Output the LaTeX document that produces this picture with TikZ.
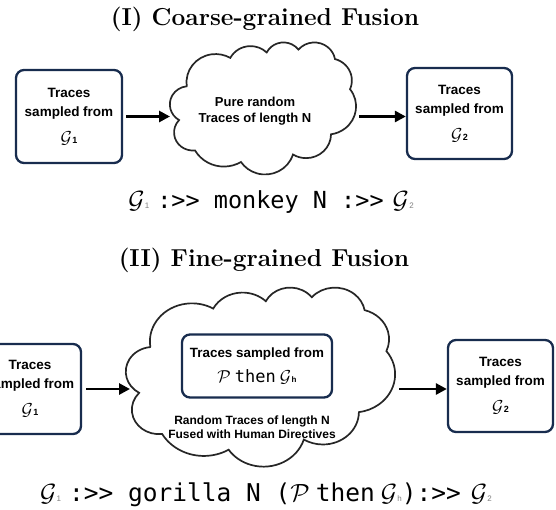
\documentclass[tikz,border=0pt]{standalone}
\usepackage{fontspec}
\setsansfont{Liberation Sans}
\newfontfamily\codefont{DejaVu Sans Mono}
\usetikzlibrary{arrows.meta}
\definecolor{navy}{RGB}{24,44,78}

% OOXML-style arc preparation: visual angles -> parametric angles
\newcommand\ooPrep[5]{%
  \pgfmathsetmacro\ooTs{atan2(#2*sin(#4),#3*cos(#4))}%
  \pgfmathsetmacro\ooTe{atan2(#2*sin(#4+#5),#3*cos(#4+#5))}%
  \pgfmathsetmacro\ooD{mod(\ooTe-\ooTs+720,360)}%
  \expandafter\xdef\csname ooS#1\endcsname{\ooTs}%
  \expandafter\xdef\csname ooD#1\endcsname{\ooD}%
}
\newcommand\ooCloud[4]{%
  \pgfmathsetmacro\ooxs{#3/43.2}%
  \pgfmathsetmacro\ooys{#4/43.2}%
  \begin{scope}[shift={(#1pt,-#2pt)},x=\ooxs pt,y=-\ooys pt]
    \draw[cloudline] (3.9,14.37)
      arc[start angle=\ooSa,delta angle=\ooDa,x radius=6.753,y radius=9.190]
      arc[start angle=\ooSb,delta angle=\ooDb,x radius=5.333,y radius=7.267]
      arc[start angle=\ooSc,delta angle=\ooDc,x radius=4.365,y radius=5.945]
      arc[start angle=\ooSd,delta angle=\ooDd,x radius=4.857,y radius=6.595]
      arc[start angle=\ooSe,delta angle=\ooDe,x radius=5.333,y radius=7.273]
      arc[start angle=\ooSf,delta angle=\ooDf,x radius=6.775,y radius=9.220]
      arc[start angle=\ooSg,delta angle=\ooDg,x radius=5.785,y radius=7.867]
      arc[start angle=\ooSh,delta angle=\ooDh,x radius=6.752,y radius=9.215]
      arc[start angle=\ooSi,delta angle=\ooDi,x radius=7.720,y radius=10.543]
      arc[start angle=\ooSj,delta angle=\ooDj,x radius=4.360,y radius=5.918]
      arc[start angle=\ooSk,delta angle=\ooDk,x radius=4.345,y radius=5.945]
      -- cycle;
  \end{scope}}
\newcommand\gsym[1]{{\fontsize{19}{19}\selectfont$\mathcal{G}$}\kern0.5pt{\fontsize{9}{9}\selectfont\sffamily\bfseries #1}}
\newcommand\gsub[1]{{\fontsize{26}{26}\selectfont$\mathcal{G}$}\kern0.3pt{\fontsize{8}{8}\selectfont\sffamily\color{black!50}#1}}

\begin{document}
\begin{tikzpicture}[x=1pt,y=-1pt,
  gbox/.style={draw=navy,line width=2.3pt,rounded corners=8pt,fill=white,align=center,inner sep=0pt},
  btext/.style={font=\sffamily\bfseries\fontsize{13.5}{19}\selectfont},
  conn/.style={line width=2.8pt,-{Triangle[length=11pt,width=11pt]}},
  cloudline/.style={draw=black!85,line width=1.7pt,fill=white},
  area/.style={inner sep=0pt,outer sep=0pt},
  cloudtext/.style={font=\sffamily\bfseries\fontsize{13}{15.5}\selectfont,align=center,inner sep=0pt},
  title/.style={font=\rmfamily\bfseries\fontsize{24.5}{29}\selectfont,anchor=base,inner sep=0pt},
  code/.style={font=\codefont\fontsize{23.5}{28}\selectfont,anchor=base,inner sep=0pt}]
\ooPrep{a}{6.753}{9.190}{-190.4875}{123.7805}
\ooPrep{b}{5.333}{7.267}{-144.1024}{89.9452}
\ooPrep{c}{4.365}{5.945}{-145.8079}{99.7230}
\ooPrep{d}{4.857}{6.595}{-130.9861}{117.2417}
\ooPrep{e}{5.333}{7.273}{-78.7089}{109.0269}
\ooPrep{f}{6.775}{9.220}{-46.2673}{130.2690}
\ooPrep{g}{5.785}{7.867}{0.6250}{114.0333}
\ooPrep{h}{6.752}{9.215}{22.4516}{115.1726}
\ooPrep{i}{7.720}{10.543}{66.2426}{75.7110}
\ooPrep{j}{4.360}{5.918}{-274.9421}{146.7356}
\ooPrep{k}{4.345}{5.945}{-246.8285}{152.5189}

\useasboundingbox (0,0) rectangle (556,509);

% ---------- (I) ----------
\node[title] (t1) at (265,25) {(I) Coarse-grained Fusion};

\node[gbox,btext,minimum width=106pt,minimum height=93pt] (b1) at (69,116.5)
  {Traces\\sampled from\\[8pt]\gsym{1}};

\ooCloud{170}{42}{186}{132}
\node[area,minimum width=186pt,minimum height=132pt] (c1) at (263,108) {};
\node[cloudtext] (c1t) at (255,111) {Pure random\\Traces of length N};

\node[gbox,btext,minimum width=105pt,minimum height=91pt] (b2) at (459.5,113.5)
  {Traces\\sampled from\\[8pt]\gsym{2}};

\draw[conn] ([xshift=3pt]b1.east) -- (b1.east -| c1.west);
\draw[conn] ([xshift=3pt]c1.east |- b1.east) -- (b2.west |- b1.east);

\node[code] (f1) at (271,208) {\gsub{1}\kern8pt:>> monkey N :>>\kern9pt\gsub{2}};

% ---------- (II) ----------
\node[title] (t2) at (264,266) {(II) Fine-grained Fusion};

\node[gbox,btext,minimum width=102pt,minimum height=90pt] (b3) at (30,389)
  {Traces\\sampled from\\[8pt]\gsym{1}};

\ooCloud{126}{287}{269}{179}
\node[area,minimum width=269pt,minimum height=179pt] (c2) at (260.5,376.5) {};

\node[gbox,minimum width=150pt,minimum height=63pt,font=\fontsize{13.4}{25}\selectfont] (pb) at (257,366)
  {{\sffamily\bfseries Traces sampled from}\\{\fontsize{17}{17}\selectfont$\mathcal{P}$\kern4pt{\codefont then}\kern4pt$\mathcal{G}$}\kern0.5pt{\fontsize{8}{8}\selectfont\sffamily\bfseries h}};

\node[cloudtext,font=\sffamily\bfseries\fontsize{12}{14}\selectfont] (c2t) at (252,427)
  {Random Traces of length N\\Fused with Human Directives};

\node[gbox,btext,minimum width=105pt,minimum height=92pt] (b4) at (500.5,386)
  {Traces\\sampled from\\[8pt]\gsym{2}};

\draw[conn] ([xshift=4pt]b3.east) -- ([xshift=4pt]c2.west |- b3.east);
\draw[conn] ([xshift=4pt]c2.east |- b3.east) -- (b4.west |- b3.east);

\node[code,font=\codefont\fontsize{24.5}{29}\selectfont] (f2) at (266,501) {\gsub{1}\kern8pt:>> gorilla N ({\fontsize{26}{26}\selectfont$\mathcal{P}$}\kern6pt then\kern6pt\gsub{h}):>>\kern10pt\gsub{2}};
\end{tikzpicture}
\end{document}
